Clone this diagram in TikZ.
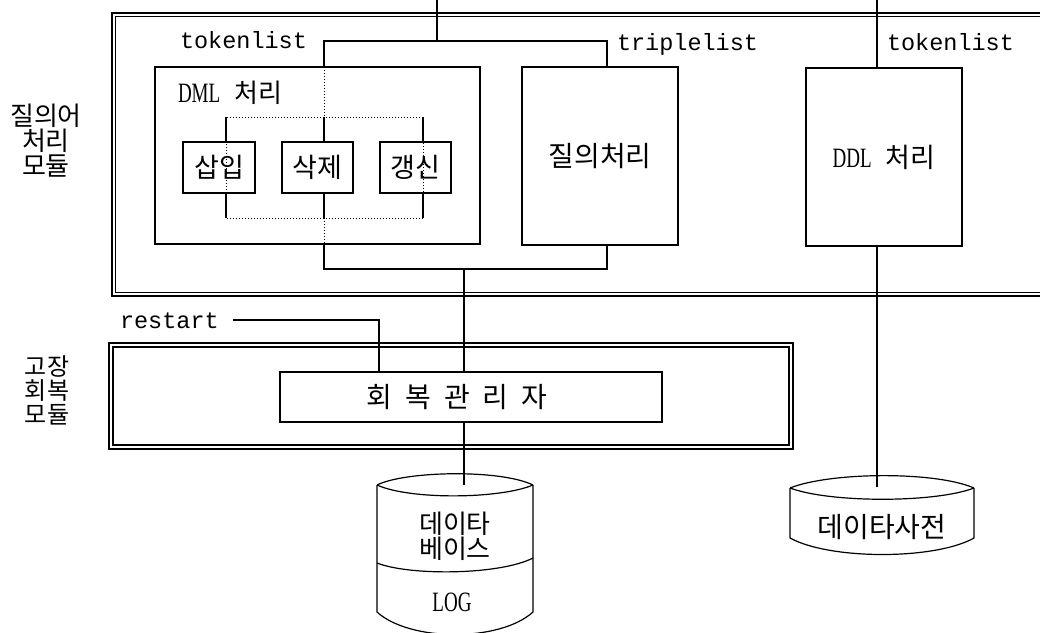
\documentclass[tikz,border=0pt]{standalone}
\usepackage{fontspec}
\usepackage{graphicx}
\newfontfamily\kr{Noto Sans CJK KR}
\newfontfamily\monofam{Liberation Mono}
\newfontfamily\seriffam{Liberation Serif}
% condensed serif capitals (DML, DDL, LOG)
\newcommand\narrowlatin[1]{\scalebox{0.68}[1]{\seriffam\fontsize{28}{30}\selectfont #1}}
\usetikzlibrary{calc}

\tikzset{
  boxnode/.style={draw, line width=1.2pt, inner sep=0pt, outer sep=0pt},
  txt/.style={inner sep=0pt, outer sep=0pt},
  ko/.style={txt, font=\kr\fontsize{#1}{#1}\selectfont},
  tt/.style={txt, anchor=base west, font=\monofam\fontsize{23.5}{26}\selectfont},
  dotline/.style={dotted, line width=1pt},
  dbline/.style={line width=1.2pt, line join=round},
}

\begin{document}
\begin{tikzpicture}[x=1pt, y=-1pt, line width=1.2pt]
\clip (0,0) rectangle (1040,632);

% ---------- query processing module (double frame, open to the right)
\draw (1060,13) -- (112,13) -- (112,296) -- (1060,296);
\draw (1060,16.5) -- (115.5,16.5) -- (115.5,292.5) -- (1060,292.5);

\node[txt, align=center, font=\kr\fontsize{26}{25}\selectfont] (qmod) at (46,141) {질의어\\처리\\모듈};

% DML box with its three sub-operations
\node[boxnode, minimum width=325pt, minimum height=177pt] (dml) at (317.5,155.5) {};
\node[txt, anchor=west, font=\kr\fontsize{26}{26}\selectfont] (dmllab) at (178,93) {\narrowlatin{DML}\hspace{14pt}처리};
\node[boxnode, minimum width=72pt, minimum height=51pt, font=\kr\fontsize{27}{27}\selectfont] (ins) at (219,167.5) {삽입};
\node[boxnode, minimum width=71pt, minimum height=51pt, font=\kr\fontsize{27}{27}\selectfont] (del) at (317.5,167.5) {삭제};
\node[boxnode, minimum width=71pt, minimum height=51pt, font=\kr\fontsize{27}{27}\selectfont] (upd) at (415.5,167.5) {갱신};

\node[boxnode, minimum width=156pt, minimum height=178pt, font=\kr\fontsize{28}{28}\selectfont] (qry) at (600,156) {질의처리};
\node[boxnode, minimum width=156pt, minimum height=178pt, font=\kr\fontsize{27}{27}\selectfont] (ddl) at (884,157) {\narrowlatin{DDL}\hspace{14pt}처리};

% dotted frame joining the sub-operations
\coordinate (dtl) at (226,117);
\coordinate (dbr) at (423,218);
\draw[dotline] (dtl) rectangle (dbr);
\draw (dtl) -- (dtl |- ins.north);
\draw (dtl -| dbr) -- (dbr |- upd.north);
\draw (dbr |- ins.south) -- (dbr);
\draw (dtl |- ins.south) -- (dtl |- dbr);

% token / triple bus
\coordinate (in1) at (437,0);
\coordinate (bustl) at (324,41);
\coordinate (bustr) at (607,41);
\coordinate (busbl) at (324,269);
\coordinate (busbr) at (607,269);
\coordinate (bj) at (464,269);
\draw (in1) -- (in1 |- bustl);
\draw (bustl |- dml.north) -- (bustl) -- (bustr) -- (bustr |- qry.north);
\draw[dotline] (bustl |- dml.north) -- (bustl |- dtl);
\draw (bustl |- dtl) -- (bustl |- del.north);
\draw (bustl |- del.south) -- (bustl |- dbr);
\draw[dotline] (bustl |- dbr) -- (bustl |- dml.south);
\draw (bustl |- dml.south) -- (busbl) -- (busbr) -- (busbr |- qry.south);

\node[tt] (tok1) at (180,48) {tokenlist};
\node[tt] (trip) at (617,50) {triplelist};
\node[tt] (tok2) at (887,50) {tokenlist};

% DDL path to the data dictionary
\coordinate (in2) at (877,0);
\coordinate (dictop) at (877,487);
\draw (in2) -- (in2 |- ddl.north);
\draw (in2 |- ddl.south) -- (dictop);

% ---------- recovery module (double frame)
\draw (109,343) rectangle (793,449);
\draw (113,347) rectangle (789,445);
\node[txt, align=center, font=\kr\fontsize{24}{24}\selectfont] (rmod) at (47,390) {고장\\회복\\모듈};

\node[boxnode, minimum width=382pt, minimum height=50pt] (rec) at (471,397) {};
\node[ko=28] (reclab) at (457,397) {회\hspace{13pt}복\hspace{13pt}관\hspace{13pt}리\hspace{13pt}자};

\node[tt] (rst) at (120,328) {restart};
\coordinate (rs) at (379,320);
\draw (233,320) -- (rs) -- (rs |- rec.north);

\coordinate (dbtop) at (464,485);
\draw (bj) -- (bj |- rec.north);
\draw (bj |- rec.south) -- (dbtop);

% ---------- database / log cylinder
\draw[dbline] (377,485) .. controls (405,471) and (500,469) .. (533,485);
\draw[dbline] (377,485) .. controls (410,500) and (500,499) .. (533,485);
\draw[dbline] (377,485) -- (377,612) .. controls (410,642) and (500,642) .. (533,612) -- (533,485);
\draw[dbline] (377,563) .. controls (410,576) and (500,575) .. (533,558);
\node[txt, align=center, font=\kr\fontsize{26}{23}\selectfont] (db) at (455,536) {데이타\\베이스};
\node[txt] (log) at (452,602) {\narrowlatin{LOG}};

% ---------- data dictionary cylinder
\draw[dbline] (790,488) .. controls (830,472) and (935,471) .. (974,488);
\draw[dbline] (790,488) .. controls (830,503) and (935,503) .. (974,488);
\draw[dbline] (790,488) -- (790,538) .. controls (830,560) and (935,560) .. (974,538) -- (974,488);
\node[ko=28] (dic) at (882,527) {데이타사전};

\end{tikzpicture}
\end{document}
